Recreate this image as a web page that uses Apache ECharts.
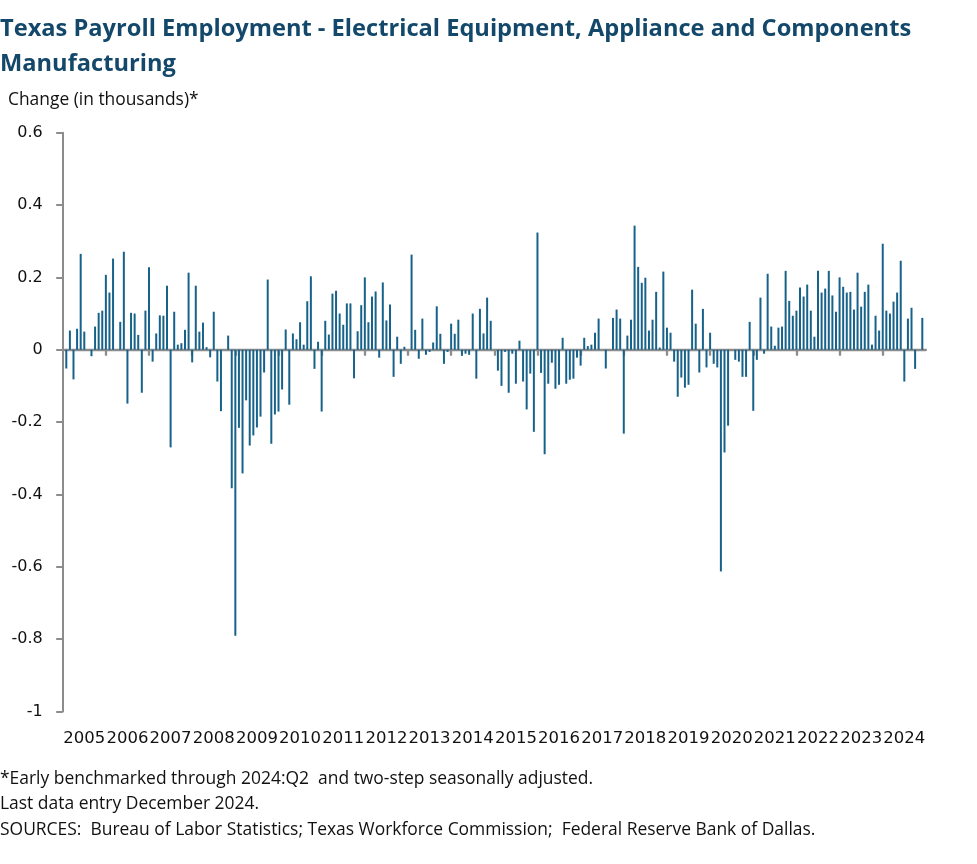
<!DOCTYPE html>
<html>
<head>
<meta charset="utf-8">
<script src="https://cdn.jsdelivr.net/npm/echarts@6/dist/echarts.min.js"></script>
<style>
  html, body { margin: 0; padding: 0; background: #fff; }
  #chart { width: 977px; height: 864px; }
</style>
</head>
<body>
<div id="chart"></div>
<script>
// Monthly change, Feb 2005 .. Dec 2024 (thousands)
const values2005 = [-0.052, 0.053, -0.082, 0.058, 0.265, 0.050, 0.000, -0.018, 0.064, 0.102, 0.108]; // Feb-Dec
const values2006 = [0.207, 0.158, 0.252, 0.000, 0.077, 0.271, -0.149, 0.102, 0.100, 0.041, -0.119, 0.108];
const values2007 = [0.228, -0.033, 0.045, 0.095, 0.094, 0.177, -0.270, 0.105, 0.014, 0.018, 0.055, 0.213];
const values2008 = [-0.035, 0.177, 0.050, 0.075, 0.007, -0.021, 0.105, -0.088, -0.170, 0.000, 0.039, -0.383];
const values2009 = [-0.791, -0.216, -0.342, -0.140, -0.265, -0.237, -0.215, -0.185, -0.063, 0.194, -0.260, -0.179];
const values2010 = [-0.171, -0.110, 0.056, -0.152, 0.045, 0.029, 0.076, 0.014, 0.134, 0.203, -0.053, 0.022];
const values2011 = [-0.171, 0.080, 0.042, 0.155, 0.163, 0.100, 0.069, 0.128, 0.128, -0.079, 0.051, 0.123];
const values2012 = [0.200, 0.076, 0.147, 0.161, -0.022, 0.186, 0.081, 0.125, -0.075, 0.036, -0.039, 0.008];
const values2013 = [0.000, 0.263, 0.055, -0.025, 0.086, -0.014, -0.006, 0.020, 0.120, 0.044, -0.039, -0.006];
const values2014 = [0.072, 0.044, 0.083, -0.017, -0.011, -0.014, 0.100, -0.080, 0.113, 0.045, 0.144, 0.080];
const values2015 = [0.000, -0.058, -0.100, -0.006, -0.119, -0.011, -0.094, 0.025, -0.088, -0.165, -0.066, -0.227];
const values2016 = [0.324, -0.064, -0.289, -0.094, -0.036, -0.108, -0.097, 0.033, -0.094, -0.083, -0.080, -0.022];
const values2017 = [-0.044, 0.033, 0.010, 0.014, 0.047, 0.086, 0.000, -0.052, 0.000, 0.088, 0.111, 0.086];
const values2018 = [-0.232, 0.039, 0.083, 0.343, 0.229, 0.185, 0.199, 0.053, 0.083, 0.160, 0.006, 0.216];
const values2019 = [0.061, 0.047, -0.033, -0.130, -0.077, -0.105, -0.097, 0.166, 0.072, -0.063, 0.113, -0.049];
const values2020 = [0.047, -0.039, -0.049, -0.613, -0.284, -0.210, 0.000, -0.028, -0.033, -0.075, -0.075, 0.077];
const values2021 = [-0.169, -0.028, 0.144, -0.011, 0.210, 0.064, 0.011, 0.061, 0.064, 0.218, 0.135, 0.094];
const values2022 = [0.108, 0.172, 0.147, 0.180, 0.108, 0.036, 0.218, 0.158, 0.169, 0.218, 0.150, 0.105];
const values2023 = [0.200, 0.174, 0.158, 0.160, 0.111, 0.213, 0.119, 0.160, 0.180, 0.014, 0.094, 0.053];
const values2024 = [0.293, 0.108, 0.100, 0.133, 0.158, 0.246, -0.088, 0.086, 0.116, -0.053, 0.000, 0.088];

const yearLabels = ['2005','2006','2007','2008','2009','2010','2011','2012','2013','2014',
                    '2015','2016','2017','2018','2019','2020','2021','2022','2023','2024'];
const yTicks = { min: -1, max: 0.6, interval: 0.2 };

const titleText = 'Texas Payroll Employment - Electrical Equipment, Appliance and Components\nManufacturing';
const yAxisTitle = 'Change (in thousands)*';
const footnotes = [
  '*Early benchmarked through 2024:Q2  and two-step seasonally adjusted.',
  'Last data entry December 2024.',
  'SOURCES:  Bureau of Labor Statistics; Texas Workforce Commission;  Federal Reserve Bank of Dallas.'
];

// Build monthly series: Jan 2005 (no data) .. Dec 2024, plus Jan 2025 as axis end
const monthly = [null].concat(values2005, values2006, values2007, values2008, values2009,
  values2010, values2011, values2012, values2013, values2014, values2015, values2016,
  values2017, values2018, values2019, values2020, values2021, values2022, values2023, values2024, [null]);
const monthCats = [];
for (let y = 2005; y <= 2025; y++) {
  for (let m = 1; m <= 12; m++) {
    if (y === 2025 && m > 1) break;
    monthCats.push(y + '-' + (m < 10 ? '0' + m : m));
  }
}

const AXIS_GREY = '#8c8c8c';
const BAR_COLOR = '#17628a';
const TITLE_COLOR = '#13486b';
const BODY_FONT = '"Open Sans", "Noto Sans", sans-serif';
const AXIS_FONT = '"DejaVu Sans", sans-serif';

const chart = echarts.init(document.getElementById('chart'), null, { renderer: 'canvas' });
const gridL = 62.7, gridT = 132.7, gridW = 863.2, gridH = 578.7;

chart.setOption({
  animation: false,
  backgroundColor: '#ffffff',
  grid: { left: gridL, top: gridT, width: gridW, height: gridH, containLabel: false, outerBoundsMode: 'none' },
  xAxis: [
    {
      type: 'category',
      data: monthCats,
      boundaryGap: false,
      axisLine: { show: true, onZero: true, lineStyle: { color: AXIS_GREY, width: 2.3 } },
      axisTick: {
        show: true, length: 6, lineStyle: { color: AXIS_GREY, width: 2.3 },
        interval: function (idx) { return idx % 12 === 0 && idx > 0 && idx < 240; }
      },
      axisLabel: { show: false },
      splitLine: { show: false }
    },
    {
      type: 'category',
      data: yearLabels,
      position: 'bottom',
      boundaryGap: true,
      axisLine: { show: false, onZero: false },
      axisTick: { show: false },
      axisLabel: { show: true, interval: 0, margin: 19, color: '#111', fontFamily: AXIS_FONT, fontSize: 16.5 },
      splitLine: { show: false }
    }
  ],
  yAxis: {
    type: 'value',
    min: yTicks.min, max: yTicks.max, interval: yTicks.interval,
    axisLine: { show: true, lineStyle: { color: AXIS_GREY, width: 2 } },
    axisTick: { show: true, length: 6.5, lineStyle: { color: AXIS_GREY, width: 2 } },
    axisLabel: {
      margin: 20, color: '#111', fontFamily: AXIS_FONT, fontSize: 16,
      formatter: function (v) { return String(Math.round(v * 10) / 10); }
    },
    splitLine: { show: false }
  },
  series: [{
    type: 'bar',
    xAxisIndex: 0,
    data: monthly,
    barWidth: 2,
    itemStyle: { color: BAR_COLOR },
    clip: false
  }],
  graphic: [
    { type: 'text', left: 0, top: 12, style: { text: titleText, font: 'bold 23.65px "Open Sans", sans-serif', fill: TITLE_COLOR, lineHeight: 35 } },
    { type: 'text', left: 8, top: 92, style: { text: yAxisTitle, font: '17.4px ' + BODY_FONT, fill: '#111' } },
    { type: 'text', left: 0, top: 771, style: { text: footnotes[0], font: '17.45px ' + BODY_FONT, fill: '#111' } },
    { type: 'text', left: 0, top: 796, style: { text: footnotes[1], font: '17.45px ' + BODY_FONT, fill: '#111' } },
    { type: 'text', left: 0, top: 822, style: { text: footnotes[2], font: '17.45px ' + BODY_FONT, fill: '#111' } }
  ]
});
</script>
</body>
</html>
